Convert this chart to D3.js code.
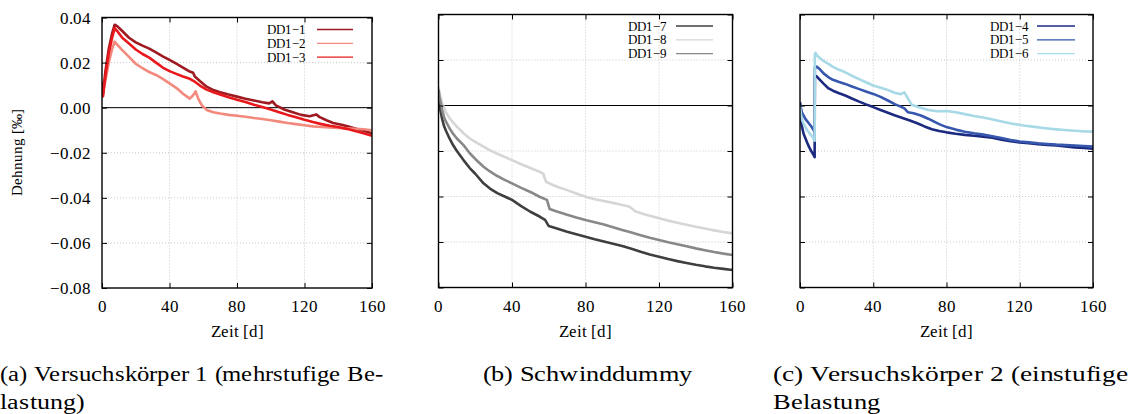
<!DOCTYPE html>
<html>
<head>
<meta charset="utf-8">
<script src="https://cdn.jsdelivr.net/npm/d3@7"></script>
<style>
  @font-face {
    font-family: "ChartSerif";
    src: local("Liberation Serif"), local("LiberationSerif-Regular"), local("LiberationSerif");
  }
  body { margin: 0; background: #fff; }
</style>
</head>
<body>
<script>
// Dehnung [‰] over Zeit [d]
const xTicks = [0, 40, 80, 120, 160];
const yTicks = [-0.08, -0.06, -0.04, -0.02, 0.0, 0.02, 0.04];

const dd1_1 = [[0,0.006],[0.3,0.011],[0.6,0.006],[2,0.016],[4,0.026],[6,0.033],[7.5,0.0368],[9,0.0362],[12,0.034],[16,0.031],[20,0.029],[24,0.0275],[28,0.0262],[32,0.0245],[36,0.0228],[40,0.0212],[44,0.0195],[48,0.0178],[52,0.016],[54,0.0155],[55,0.0138],[58,0.0118],[62,0.0093],[66,0.0078],[70,0.0068],[75,0.0058],[80,0.0049],[85,0.004],[90,0.0032],[95,0.0024],[99,0.0019],[101,0.0028],[103,0.001],[108,-0.0008],[113,-0.002],[118,-0.0032],[123,-0.0038],[127,-0.003],[129,-0.0042],[133,-0.0056],[137,-0.0068],[142,-0.0076],[146,-0.0084],[150,-0.0092],[155,-0.0102],[160,-0.0114]];
const dd1_2 = [[0,0.005],[2,0.012],[4,0.02],[6,0.026],[7.5,0.0293],[9,0.028],[12,0.0255],[16,0.0225],[20,0.0195],[24,0.0175],[28,0.0158],[32,0.0145],[36,0.0128],[40,0.0108],[44,0.0088],[48,0.0062],[52,0.004],[54,0.0055],[55.5,0.0072],[57,0.004],[59,0.0012],[62,-0.001],[66,-0.002],[70,-0.0026],[75,-0.0032],[80,-0.0036],[85,-0.004],[90,-0.0046],[95,-0.005],[100,-0.0056],[105,-0.0062],[110,-0.0068],[115,-0.0073],[120,-0.0078],[125,-0.0083],[130,-0.0086],[135,-0.0088],[140,-0.009],[145,-0.0092],[150,-0.0094],[155,-0.0096],[160,-0.01]];
const dd1_3 = [[0,0.005],[0.3,0.009],[0.6,0.005],[2,0.014],[4,0.024],[6,0.031],[7.5,0.0353],[9,0.034],[12,0.031],[16,0.0285],[20,0.0258],[24,0.0238],[28,0.0222],[32,0.02],[36,0.0178],[40,0.0162],[44,0.015],[48,0.0138],[52,0.0128],[55,0.0115],[58,0.0098],[62,0.008],[66,0.0068],[70,0.0058],[75,0.0046],[80,0.0035],[85,0.0025],[90,0.0013],[95,0.0003],[100,-0.0008],[105,-0.002],[110,-0.0032],[115,-0.0043],[120,-0.0054],[125,-0.0064],[130,-0.0073],[135,-0.008],[140,-0.0086],[145,-0.0094],[150,-0.0104],[155,-0.0114],[160,-0.0125]];

const dd1_7 = [[0,0.006],[0.5,0.002],[1,-0.002],[2,-0.006],[3,-0.009],[4,-0.011],[6,-0.0145],[8,-0.0175],[10,-0.02],[13.6,-0.024],[17,-0.0275],[20,-0.03],[24.5,-0.0342],[28,-0.0365],[32,-0.0385],[36,-0.04],[40,-0.0415],[45,-0.0442],[50,-0.0467],[55,-0.0488],[58,-0.0503],[60,-0.053],[64,-0.054],[70,-0.0555],[75,-0.0566],[80,-0.0577],[85,-0.0588],[90,-0.0598],[95,-0.0608],[100,-0.0618],[105,-0.063],[110,-0.0643],[115,-0.0655],[120,-0.0665],[125,-0.0675],[130,-0.0684],[135,-0.0692],[140,-0.07],[145,-0.0707],[150,-0.0713],[155,-0.0718],[160,-0.0723]];
const dd1_8 = [[0,0.008],[0.5,0.006],[1,0.004],[2,0.001],[3,-0.001],[4,-0.003],[6,-0.0055],[8,-0.0075],[10,-0.0093],[13.6,-0.0122],[17,-0.0145],[20,-0.016],[24.5,-0.0181],[28,-0.0197],[32,-0.0212],[36,-0.0226],[40,-0.024],[45,-0.0258],[50,-0.0275],[55,-0.0291],[57,-0.03],[58.5,-0.0335],[61,-0.0345],[65,-0.0358],[70,-0.0372],[75,-0.0387],[80,-0.0401],[85,-0.0412],[90,-0.042],[95,-0.0428],[100,-0.0437],[104,-0.0445],[107,-0.0465],[112,-0.0478],[116,-0.0487],[120,-0.0496],[125,-0.0506],[130,-0.0515],[135,-0.0524],[140,-0.0533],[145,-0.0541],[150,-0.0549],[155,-0.0556],[160,-0.0562]];
const dd1_9 = [[0,0.007],[0.5,0.004],[1,0.002],[2,-0.002],[3,-0.005],[4,-0.007],[6,-0.01],[8,-0.0125],[10,-0.0145],[13.6,-0.0174],[17,-0.021],[20,-0.0235],[24.5,-0.0269],[28,-0.029],[32,-0.031],[36,-0.0327],[40,-0.0342],[45,-0.0362],[50,-0.038],[55,-0.0401],[59,-0.0415],[60.5,-0.0455],[64,-0.0465],[70,-0.048],[75,-0.0492],[80,-0.0503],[85,-0.0513],[90,-0.0523],[95,-0.0535],[100,-0.0547],[105,-0.0558],[110,-0.057],[115,-0.0581],[120,-0.0591],[125,-0.0601],[130,-0.061],[135,-0.0619],[140,-0.0628],[145,-0.0636],[150,-0.0644],[155,-0.0651],[160,-0.0657]];

const dd1_4 = [[0,0.0015],[0.5,-0.005],[1,-0.009],[2,-0.0125],[3,-0.0145],[4,-0.0165],[5,-0.0183],[6,-0.0198],[7,-0.0212],[8,-0.0227],[8.1,0.0125],[9,0.0129],[11,0.0112],[13,0.0095],[15.6,0.0075],[18,0.0065],[21,0.0055],[24.7,0.0044],[28,0.0032],[32,0.0018],[36,0.0005],[40,-0.0007],[44,-0.002],[48,-0.0032],[52,-0.0044],[56,-0.0055],[60,-0.0066],[64,-0.0078],[68,-0.0092],[72,-0.0104],[76,-0.0112],[80,-0.0118],[85,-0.0124],[90,-0.0129],[95,-0.0133],[100,-0.0137],[105,-0.0142],[110,-0.015],[115,-0.0157],[120,-0.0162],[125,-0.0166],[130,-0.017],[135,-0.0173],[140,-0.0176],[145,-0.018],[150,-0.0184],[155,-0.0187],[160,-0.019]];
const dd1_5 = [[0,0.001],[0.5,-0.001],[1,-0.003],[2,-0.0045],[3,-0.006],[4,-0.007],[5,-0.008],[6,-0.009],[7,-0.0103],[8,-0.0117],[8.1,0.0168],[9,0.0171],[11,0.0158],[13,0.014],[15.6,0.0124],[18,0.0113],[21,0.0104],[24.7,0.0095],[28,0.0085],[32,0.0073],[36,0.0062],[40,0.0051],[44,0.0038],[48,0.0022],[52,0.0005],[55,-0.0005],[57,-0.0013],[59,-0.003],[62,-0.0034],[66,-0.0044],[70,-0.0058],[73,-0.007],[76,-0.0082],[80,-0.0095],[85,-0.0106],[90,-0.0115],[95,-0.0122],[100,-0.0128],[105,-0.0135],[110,-0.0143],[115,-0.0152],[120,-0.0158],[125,-0.0162],[130,-0.0166],[135,-0.0169],[140,-0.0172],[145,-0.0174],[150,-0.0176],[155,-0.0178],[160,-0.018]];
const dd1_6 = [[0,0.0],[0.5,-0.004],[1,-0.006],[2,-0.008],[3,-0.0095],[4,-0.011],[5,-0.012],[6,-0.013],[7,-0.014],[8,-0.0155],[8.1,0.0225],[8.5,0.0231],[9.5,0.0218],[11,0.0208],[13,0.0195],[15.6,0.0183],[18,0.017],[21,0.0158],[24.7,0.0146],[28,0.0132],[32,0.0117],[36,0.0102],[40,0.0088],[44,0.0078],[48,0.0068],[52,0.0055],[55,0.005],[57,0.0058],[59,0.003],[61,0.0003],[65,-0.0008],[70,-0.002],[75,-0.0025],[80,-0.0024],[85,-0.003],[90,-0.0038],[95,-0.0046],[100,-0.0053],[104,-0.0059],[110,-0.007],[116,-0.008],[122,-0.0088],[128,-0.0094],[134,-0.01],[140,-0.0105],[146,-0.0109],[152,-0.0112],[156,-0.0114],[160,-0.0115]];

const seriesA = [
  { name: "DD1\u22121", values: dd1_1, color: "#9e1a20" },
  { name: "DD1\u22122", values: dd1_2, color: "#f3897c" },
  { name: "DD1\u22123", values: dd1_3, color: "#e8181c" },
];
const seriesB = [
  { name: "DD1\u22127", values: dd1_7, color: "#3f3f3f" },
  { name: "DD1\u22128", values: dd1_8, color: "#d6d6d6" },
  { name: "DD1\u22129", values: dd1_9, color: "#888888" },
];
const seriesC = [
  { name: "DD1\u22124", values: dd1_4, color: "#1c2a7f" },
  { name: "DD1\u22125", values: dd1_5, color: "#3657ad" },
  { name: "DD1\u22126", values: dd1_6, color: "#a7d9e7" },
];

const captions = [
  { lines: ["(a) Versuchskörper 1 (mehrstufige Be-", "lastung)"], x: 0, widths: [383, 84] },
  { lines: ["(b) Schwinddummy"], x: 483, widths: [209] },
  { lines: ["(c) Versuchskörper 2 (einstufige", "Belastung"], x: 773, widths: [355, 107] },
];

const W = 1133, H = 414;
const svg = d3.select("body").append("svg")
  .attr("width", W).attr("height", H)
  .style("display", "block");

// panel boxes (pixel layout)
const panels = [
  { series: seriesA, left: 102, right: 372, top: 17.5, bottom: 288, yLabels: true, leg: { tx: 306, lx0: 317, lx1: 353, y: 29.5 } },
  { series: seriesB, left: 438.5, right: 732.5, top: 14.5, bottom: 287.5, yLabels: false, leg: { tx: 667, lx0: 676, lx1: 713, y: 26 } },
  { series: seriesC, left: 800, right: 1093, top: 14.5, bottom: 287.5, yLabels: false, leg: { tx: 1029, lx0: 1037, lx1: 1075, y: 26 } },
];

const fmt = d3.format(".2f");

const label = (parent, str, size) => parent.append("text")
  .attr("font-family", "Liberation Serif")
  .style("font-family", '"ChartSerif", "Liberation Serif"')
  .style("font-size", size + "px")
  .attr("fill", "#000").text(str);

panels.forEach((p, pi) => {
  const x = d3.scaleLinear().domain([0, 160]).range([p.left, p.right]);
  const y = d3.scaleLinear().domain([-0.08, 0.04]).range([p.bottom, p.top]);
  const g = svg.append("g");

  const clipId = "clip" + pi;
  g.append("clipPath").attr("id", clipId).append("rect")
    .attr("x", p.left).attr("y", p.top)
    .attr("width", p.right - p.left).attr("height", p.bottom - p.top);

  // grid
  g.selectAll(".gx").data(xTicks.slice(1, -1)).join("line")
    .attr("x1", d => x(d)).attr("x2", d => x(d))
    .attr("y1", p.top).attr("y2", p.bottom)
    .attr("stroke", "#bbb").attr("stroke-width", 0.8).attr("stroke-dasharray", "1,2");
  g.selectAll(".gy").data(yTicks.slice(1, -1)).join("line")
    .attr("y1", d => y(d)).attr("y2", d => y(d))
    .attr("x1", p.left).attr("x2", p.right)
    .attr("stroke", "#bbb").attr("stroke-width", 0.8).attr("stroke-dasharray", "1,2");

  // zero line
  g.append("line")
    .attr("x1", p.left).attr("x2", p.right)
    .attr("y1", y(0)).attr("y2", y(0))
    .attr("stroke", "#000").attr("stroke-width", 1);

  // data
  const line = d3.line().x(d => x(d[0])).y(d => y(d[1]));
  g.append("g").attr("clip-path", `url(#${clipId})`)
    .selectAll("path").data(p.series).join("path")
    .attr("d", d => line(d.values))
    .attr("fill", "none")
    .attr("stroke", d => d.color)
    .attr("stroke-width", 2.6)
    .attr("stroke-linejoin", "round");

  // axes: inward ticks on all four sides
  const tk = 5;
  g.append("g").attr("transform", `translate(0,${p.bottom})`)
    .call(d3.axisBottom(x).tickValues(xTicks).tickSize(-tk).tickFormat(""))
    .call(a => a.select(".domain").remove());
  g.append("g").attr("transform", `translate(0,${p.top})`)
    .call(d3.axisTop(x).tickValues(xTicks).tickSize(-tk).tickFormat(""))
    .call(a => a.select(".domain").remove());
  g.append("g").attr("transform", `translate(${p.left},0)`)
    .call(d3.axisLeft(y).tickValues(yTicks).tickSize(-tk).tickFormat(""))
    .call(a => a.select(".domain").remove());
  g.append("g").attr("transform", `translate(${p.right},0)`)
    .call(d3.axisRight(y).tickValues(yTicks).tickSize(-tk).tickFormat(""))
    .call(a => a.select(".domain").remove());
  g.selectAll(".tick line").attr("stroke", "#000").attr("stroke-width", 1);
  g.selectAll(".tick text").remove();

  xTicks.forEach(v => {
    label(g, String(v), 17)
      .attr("x", x(v)).attr("y", p.bottom + 24).attr("text-anchor", "middle");
  });
  if (p.yLabels) {
    yTicks.forEach(v => {
      label(g, fmt(v), 17)
        .attr("x", p.left - 11).attr("y", y(v) + 6).attr("text-anchor", "end");
    });
    label(g, "Dehnung [‰]", 15)
      .attr("transform", `translate(22,${(p.top + p.bottom) / 2}) rotate(-90)`)
      .attr("text-anchor", "middle");
  }

  g.append("rect")
    .attr("x", p.left).attr("y", p.top)
    .attr("width", p.right - p.left).attr("height", p.bottom - p.top)
    .attr("fill", "none").attr("stroke", "#000").attr("stroke-width", 1.4);

  label(g, "Zeit [d]", 17)
    .attr("x", (p.left + p.right) / 2).attr("y", 337)
    .attr("text-anchor", "middle");

  // legend
  p.series.forEach((s, i) => {
    const ly = p.leg.y + i * 13.8;
    label(g, s.name, 12.5).attr("x", p.leg.tx).attr("y", ly + 4.5).attr("text-anchor", "end");
    g.append("line").attr("x1", p.leg.lx0).attr("x2", p.leg.lx1)
      .attr("y1", ly).attr("y2", ly)
      .attr("stroke", s.color).attr("stroke-width", 1.3);
  });
});

// captions
captions.forEach(c => {
  c.lines.forEach((t, i) => {
    label(svg, t, 22)
      .attr("x", c.x).attr("y", 381 + i * 27.5)
      .attr("textLength", c.widths[i]).attr("lengthAdjust", "spacingAndGlyphs");
  });
});
</script>
</body>
</html>
